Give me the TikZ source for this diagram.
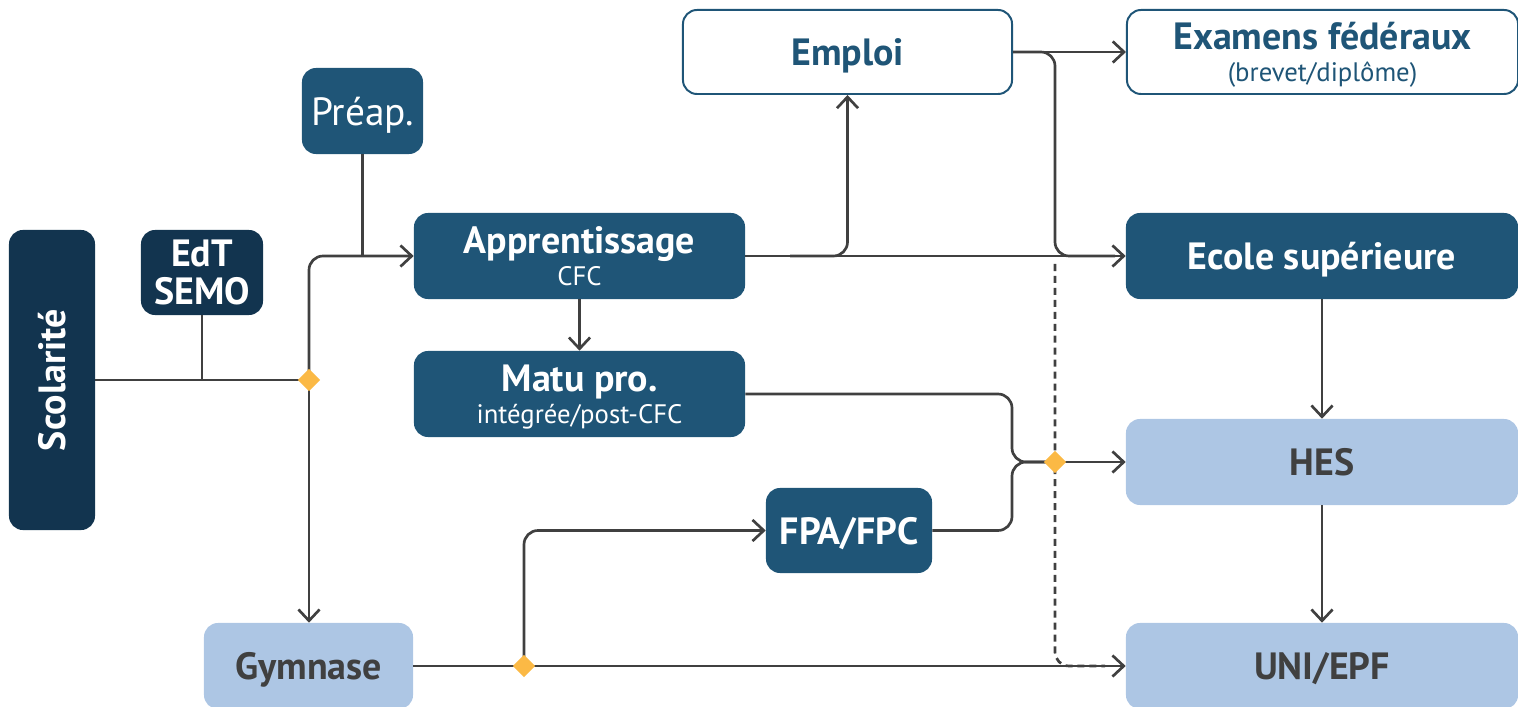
\documentclass[tikz,border=0pt]{standalone}
\usepackage{fontspec}
\setmainfont{PT Sans}
\usetikzlibrary{arrows.meta,shapes.geometric}

\definecolor{navy}{HTML}{12344F}
\definecolor{steel}{HTML}{1F5577}
\definecolor{sky}{HTML}{ADC6E4}
\definecolor{amber}{HTML}{FBB945}
\definecolor{wire}{HTML}{404040}
\newcommand{\subline}[1]{{\fontsize{19}{22}\selectfont\mdseries #1}}

\begin{document}
\begin{tikzpicture}
	[x=0.025cm, y=-0.025cm,
	box/.style={rectangle,rounded corners=0.35cm,inner sep=0pt,align=center,text depth=0pt,
		font=\fontsize{27}{30}\selectfont\bfseries},
	darkbox/.style={box,fill=navy,text=white},
	midbox/.style={box,fill=steel,text=white},
	lightbox/.style={box,fill=sky,text=wire},
	openbox/.style={box,fill=white,draw=steel,line width=1.4pt,text=steel},
	junction/.style={diamond,fill=amber,inner sep=0pt,minimum size=0.56cm},
	line/.style={draw=wire,line width=1.9pt},
	arr/.style={line,-{Straight Barb[length=8pt,width=15pt]}}]
	\useasboundingbox (0,0) rectangle (1518,707);
	% boxes
	\node (scol) [darkbox,minimum width=2.15cm,minimum height=7.5cm] at (52,380) {\rotatebox{90}{Scolarité}};
	\node (edt) [darkbox,minimum width=3.05cm,minimum height=2.125cm] at (202,272.5) {EdT\\[-3pt]SEMO};
	\node (preap) [midbox,minimum width=3.025cm,minimum height=2.15cm,font=\fontsize{28}{30}\selectfont] at (362.5,111) {Préap.};
	\node (appr) [midbox,minimum width=8.275cm,minimum height=2.15cm] at (579.5,256) {Apprentissage\\[-7pt]\subline{CFC}};
	\node (matu) [midbox,minimum width=8.275cm,minimum height=2.15cm] at (579.5,394) {Matu pro.\\[-7pt]\subline{intégrée/post-CFC}};
	\node (fpa) [midbox,minimum width=4.15cm,minimum height=2.125cm] at (849,530.5) {FPA/FPC};
	\node (gym) [lightbox,minimum width=5.225cm,minimum height=2.15cm] at (308.5,666) {Gymnase};
	\node (emploi) [openbox,minimum width=8.225cm,minimum height=2.1cm] at (847.5,52) {Emploi};
	\node (exam) [openbox,minimum width=9.775cm,minimum height=2.1cm] at (1322.5,52) {Examens fédéraux\\[-7pt]\subline{(brevet/diplôme)}};
	\node (ecole) [midbox,minimum width=9.8cm,minimum height=2.15cm] at (1322,256) {Ecole supérieure};
	\node (hes) [lightbox,minimum width=9.8cm,minimum height=2.15cm] at (1322,462) {HES};
	\node (uni) [lightbox,minimum width=9.8cm,minimum height=2.15cm] at (1322,666) {UNI/EPF};
	% junction points
	\coordinate (d1) at (309,380);
	\coordinate (d2) at (1055,462);
	\coordinate (d3) at (524,666);
	\coordinate (emj) at (790,256);
	\coordinate (dtop) at (1055,264);
	\coordinate (vx) at (1055,0);
	\coordinate (mx) at (1012,0);
	% connectors
	\draw [line] (scol.east |- d1) -- (d1);
	\draw [line] (edt.south) -- (edt.south |- d1);
	\draw [arr,rounded corners=0.35cm] (d1) |- (appr.west);
	\draw [line] (preap.south) -- (preap.south |- appr.west);
	\draw [arr] (d1) -- (d1 |- gym.north);
	\draw [arr] (appr.south) -- (matu.north);
	\draw [arr] (appr.east) -- (ecole.west);
	\draw [arr,rounded corners=0.35cm] (emj) -| (emploi.south);
	\draw [arr] (emploi.east) -- (exam.west);
	\draw [line,rounded corners=0.35cm] (emploi.east) -- (emploi.east -| vx) -- (vx |- ecole.west) -- ++(60,0);
	\draw [line,dash pattern=on 5pt off 3.5pt,rounded corners=0.35cm] (dtop) |- ++(50,402);
	\draw [line,rounded corners=0.35cm] (matu.east) -| (mx |- d2) -- (d2);
	\draw [line,rounded corners=0.35cm] (fpa.east) -| (mx |- d2) -- (d2);
	\draw [arr] (d2) -- (hes.west);
	\draw [arr] (gym.east) -- (uni.west);
	\draw [arr,rounded corners=0.35cm] (d3) |- (fpa.west);
	\draw [arr] (ecole.south) -- (hes.north);
	\draw [arr] (hes.south) -- (uni.north);
	% diamonds
	\node (d1m) [junction] at (d1) {};
	\node (d2m) [junction] at (d2) {};
	\node (d3m) [junction] at (d3) {};
\end{tikzpicture}
\end{document}
